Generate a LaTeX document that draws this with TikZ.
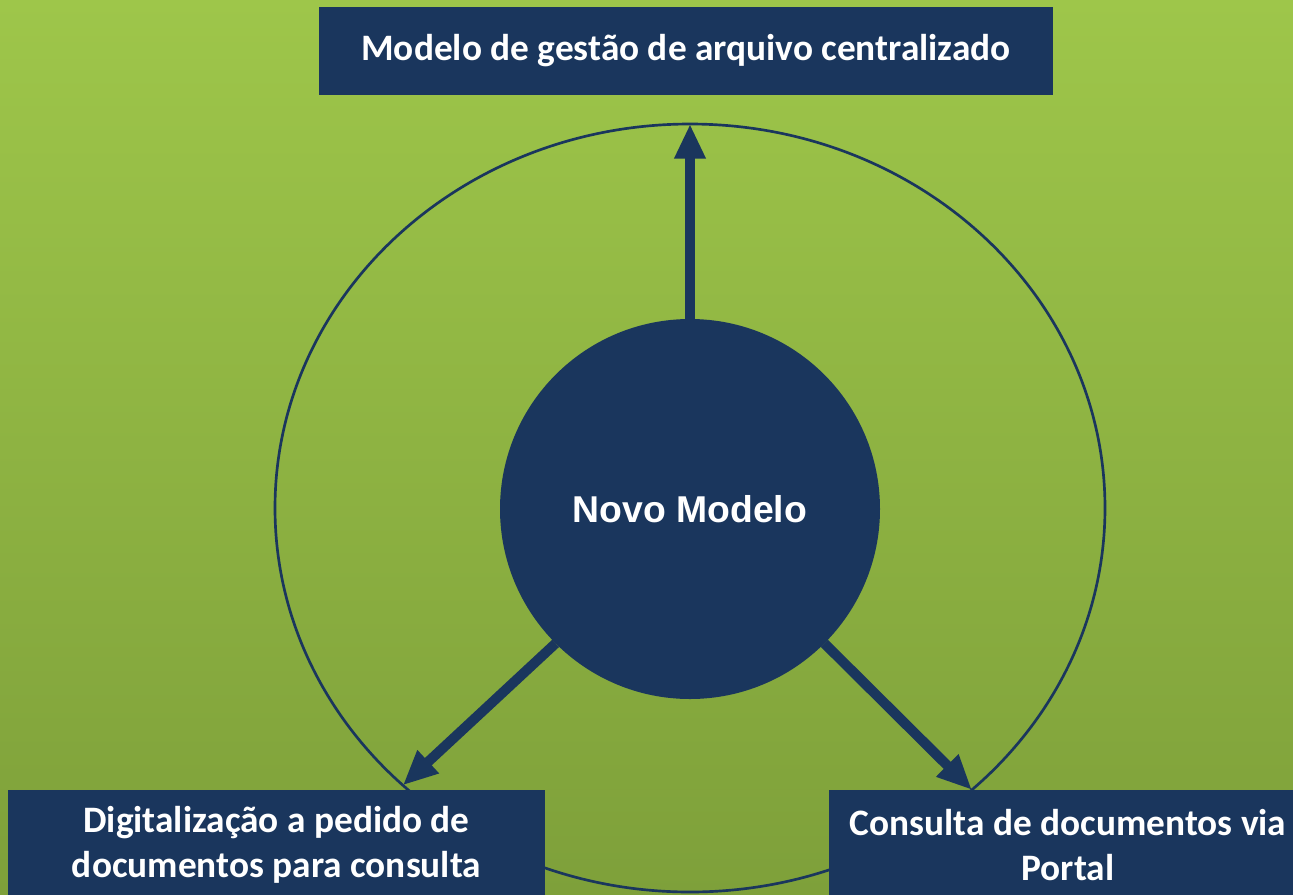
\documentclass[tikz,border=0pt]{standalone}
\usepackage{fontspec}
\setmainfont{Carlito}
\newfontfamily\arialfont{Liberation Sans}
\usetikzlibrary{arrows.meta, positioning, shapes.geometric}

\definecolor{navy}{RGB}{26,54,93}
\definecolor{bgtop}{RGB}{158,198,74}
\definecolor{bgbottom}{RGB}{126,160,58}

\begin{document}
\begin{tikzpicture}[
  x=0.75pt, y=-0.75pt,
  box/.style = {fill=navy, text=white, inner sep=0pt, align=center, font=\bfseries\fontsize{28}{34}\selectfont},
  arrow/.style = {draw=navy, line width=7.5pt, -{Triangle[width=22pt, length=26pt]}}
]

% ======================================================
% Background
% ======================================================
\useasboundingbox (0,0) rectangle (1293,894);
\clip (0,0) rectangle (1293,894);
\shade[top color=bgtop, bottom color=bgbottom] (0,0) rectangle (1293,894);

% Outer ring
\node[ellipse, draw=navy, line width=2pt, minimum width=622.5pt, minimum height=576pt, inner sep=0pt, outer sep=0pt] (ring) at (690,508) {};

% ======================================================
% Boxes
% ======================================================
\node[box, minimum width=550.5pt, minimum height=66pt] (central) at (686,51) {Modelo de gestão de arquivo centralizado};

\node[box, minimum width=402.75pt, minimum height=82.5pt] (scan) at (276.5,845) {Digitalização a pedido de\\documentos para consulta};

\node[box, minimum width=358.5pt, minimum height=82.5pt] (portal) at (1068,845) {Consulta de documentos via\\Portal};

% ======================================================
% Novo Modelo (centre)
% ======================================================
\node[circle, fill=navy, minimum size=285pt, inner sep=0pt, outer sep=0pt, text=white, font=\arialfont\bfseries\fontsize{28}{34}\selectfont] (novo) at (690,509) {Novo Modelo};

% Arrows out to the ring
\draw[arrow] (novo.north) -- (ring.north);
\draw[arrow] (novo.225) -- (ring.224.2);
\draw[arrow] (novo.315) -- (ring.315.8);
\end{tikzpicture}
\end{document}
